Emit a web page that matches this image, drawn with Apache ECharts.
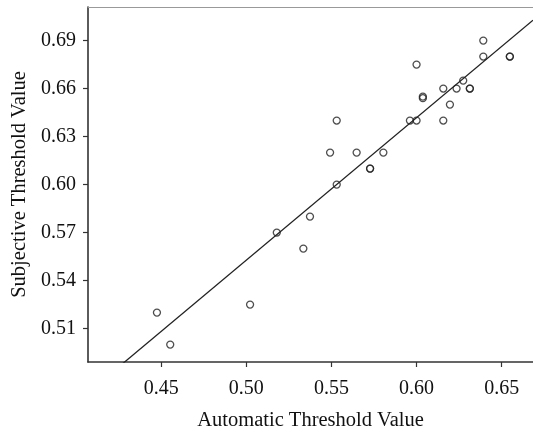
<!DOCTYPE html>
<html>
<head>
<meta charset="utf-8">
<script src="https://cdn.jsdelivr.net/npm/echarts@6/dist/echarts.min.js"></script>
<style>
html,body{margin:0;padding:0;background:#fff;}
#chart{width:533px;height:436px;}
</style>
</head>
<body>
<div id="chart"></div>
<script>
// Automatic threshold value (x) and subjective threshold value (y)
var automaticValues = [0.6392, 0.6392, 0.6548, 0.6548, 0.6000, 0.6274, 0.6157, 0.6235, 0.6313, 0.6313,
  0.6037, 0.6037, 0.6196, 0.5961, 0.6000, 0.6157, 0.5531, 0.5492, 0.5648, 0.5805,
  0.5727, 0.5727, 0.5531, 0.5374, 0.5179, 0.5335, 0.5022, 0.4475, 0.4553];
var subjectiveValues = [0.690, 0.680, 0.680, 0.680, 0.675, 0.665, 0.660, 0.660, 0.660, 0.660,
  0.655, 0.654, 0.650, 0.640, 0.640, 0.640, 0.640, 0.620, 0.620, 0.620,
  0.610, 0.610, 0.600, 0.580, 0.570, 0.560, 0.525, 0.520, 0.500];
var xTickValues = [0.45, 0.50, 0.55, 0.60, 0.65];
var yTickValues = [0.51, 0.54, 0.57, 0.60, 0.63, 0.66, 0.69];
var xRange = [0.407, 0.6684];
var yRange = [0.4891, 0.7110];

var points = automaticValues.map(function (x, i) { return [x, subjectiveValues[i]]; });

// least-squares fit line through the data
var n = points.length, mx = 0, my = 0;
points.forEach(function (p) { mx += p[0]; my += p[1]; });
mx /= n; my /= n;
var sxy = 0, sxx = 0;
points.forEach(function (p) { sxy += (p[0] - mx) * (p[1] - my); sxx += (p[0] - mx) * (p[0] - mx); });
var slope = sxy / sxx, intercept = my - slope * mx;
var fitLine = xRange.map(function (x) { return [x, intercept + slope * x]; });

var FONT = '"Liberation Serif", "Times New Roman", serif';
var chart = echarts.init(document.getElementById('chart'), null, {renderer: 'canvas'});
chart.setOption({
  animation: false,
  backgroundColor: '#fff',
  grid: {left: 88, right: 0, top: 7, bottom: 73.5, containLabel: false},
  xAxis: [{
    type: 'value', min: xRange[0], max: xRange[1],
    name: 'Automatic Threshold Value', nameLocation: 'middle', nameGap: 48,
    nameTextStyle: {fontFamily: FONT, fontSize: 20.5, color: '#111'},
    axisLine: {show: true, onZero: false, lineStyle: {color: '#333', width: 1.6}},
    axisTick: {show: true, length: 5, lineStyle: {color: '#333', width: 1.2}, customValues: xTickValues},
    axisLabel: {fontFamily: FONT, fontSize: 20, color: '#111', margin: 17, customValues: xTickValues,
      formatter: function (v) { return v.toFixed(2); }},
    splitLine: {show: false}
  }, {
    type: 'value', position: 'top', min: xRange[0], max: xRange[1],
    axisLine: {show: true, onZero: false, lineStyle: {color: '#999', width: 1}},
    axisTick: {show: false}, axisLabel: {show: false}, splitLine: {show: false}
  }],
  yAxis: {
    type: 'value', min: yRange[0], max: yRange[1],
    name: 'Subjective Threshold Value', nameLocation: 'middle', nameGap: 57,
    nameTextStyle: {fontFamily: FONT, fontSize: 20.5, color: '#111'},
    axisLine: {show: true, onZero: false, lineStyle: {color: '#333', width: 1.6}},
    axisTick: {show: true, length: 5, lineStyle: {color: '#333', width: 1.2}, customValues: yTickValues},
    axisLabel: {fontFamily: FONT, fontSize: 20, color: '#111', margin: 12, customValues: yTickValues,
      formatter: function (v) { return v.toFixed(2); }},
    splitLine: {show: false}
  },
  series: [{
    type: 'line', data: fitLine, showSymbol: false, symbol: 'none', clip: true,
    lineStyle: {color: '#222', width: 1.3}, silent: true
  }, {
    type: 'scatter', data: points, symbol: 'circle', symbolSize: 7,
    itemStyle: {color: 'rgba(0,0,0,0)', borderColor: '#222', borderWidth: 1.3}
  }]
});
</script>
</body>
</html>
